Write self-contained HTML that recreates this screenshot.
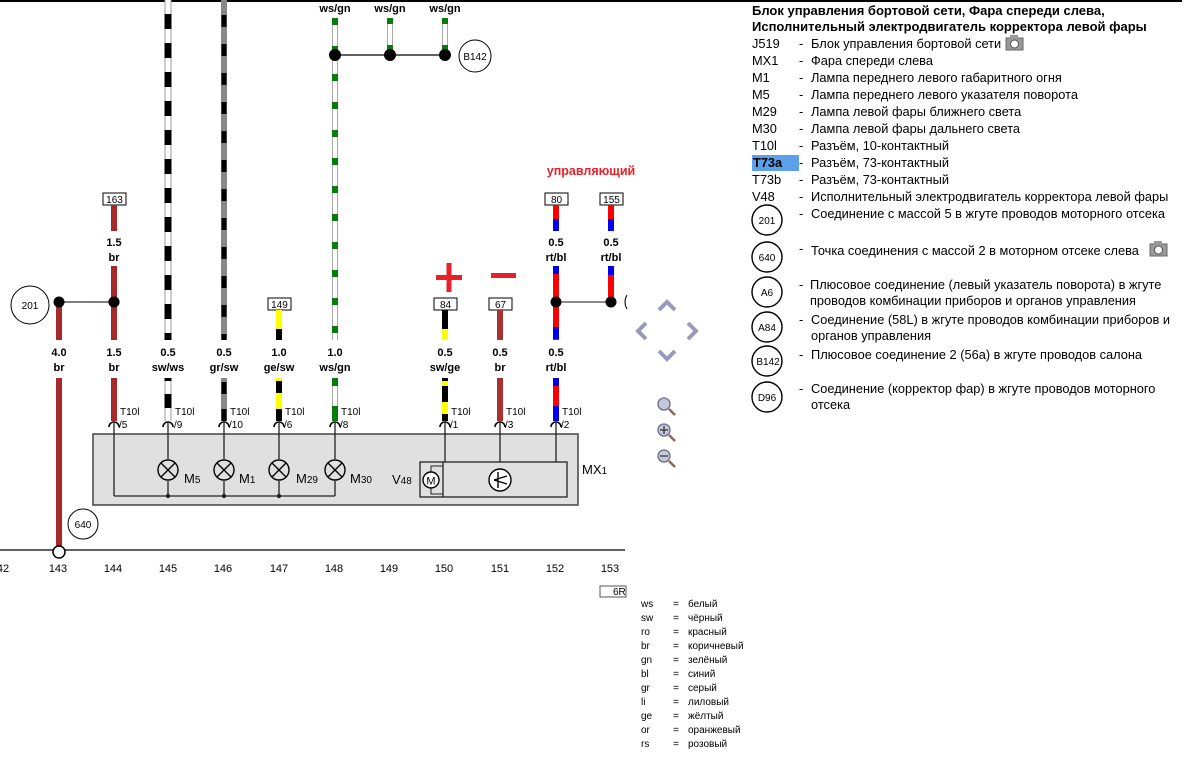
<!DOCTYPE html>
<html><head><meta charset="utf-8">
<style>
html,body{margin:0;padding:0;background:#fff;}
svg{display:block;font-family:"Liberation Sans","DejaVu Sans",sans-serif;}
.b{font-weight:bold;font-size:11px;text-anchor:middle;}
.s{font-size:10px;}
.n{font-size:11px;text-anchor:middle;}
</style></head><body>
<svg width="1190" height="760" viewBox="0 0 1190 760">
<line x1="0" y1="1" x2="1182" y2="1" stroke="#000" stroke-width="2"/>

<line x1="59" y1="302" x2="59" y2="340" stroke="#a52a2a" stroke-width="6"/>
<line x1="59" y1="378" x2="59" y2="550" stroke="#a52a2a" stroke-width="6"/>
<text class="b" x="59" y="356">4.0</text><text class="b" x="59" y="371">br</text>
<line x1="59" y1="302" x2="114" y2="302" stroke="#333" stroke-width="1.2"/>
<circle cx="59" cy="302" r="5.5"/><circle cx="114" cy="302" r="5.5"/>
<circle cx="30" cy="305" r="19" fill="#fff" stroke="#000"/>
<text x="30" y="309" font-size="10" text-anchor="middle">201</text>
<circle cx="83" cy="524" r="15" fill="#fff" stroke="#000"/>
<text x="83" y="528" font-size="10" text-anchor="middle">640</text>

<rect x="103" y="193" width="23" height="12" fill="#fff" stroke="#000"/>
<text x="114.5" y="203" font-size="10" text-anchor="middle">163</text>
<line x1="114" y1="205" x2="114" y2="231" stroke="#a52a2a" stroke-width="6"/>
<text class="b" x="114" y="246">1.5</text><text class="b" x="114" y="261">br</text>
<line x1="114" y1="266" x2="114" y2="340" stroke="#a52a2a" stroke-width="6"/>
<circle cx="114" cy="302" r="5.5"/>
<text class="b" x="114" y="356">1.5</text><text class="b" x="114" y="371">br</text>
<line x1="114" y1="378" x2="114" y2="421" stroke="#a52a2a" stroke-width="6"/>

<g>
<line x1="168" y1="0" x2="168" y2="340" stroke="#999" stroke-width="7"/>
<line x1="168" y1="0" x2="168" y2="340" stroke="#fff" stroke-width="5"/>
<line x1="168" y1="14" x2="168" y2="340" stroke="#000" stroke-width="7" stroke-dasharray="15 14"/>
<line x1="168" y1="378" x2="168" y2="421" stroke="#999" stroke-width="7"/>
<line x1="168" y1="378" x2="168" y2="421" stroke="#fff" stroke-width="5"/>
<line x1="168" y1="378" x2="168" y2="421" stroke="#000" stroke-width="7" stroke-dasharray="3 13 14 30"/>
</g>
<text class="b" x="168" y="356">0.5</text><text class="b" x="168" y="371">sw/ws</text>

<line x1="224" y1="0" x2="224" y2="340" stroke="#888" stroke-width="6"/>
<line x1="224" y1="15" x2="224" y2="340" stroke="#000" stroke-width="5" stroke-dasharray="12 17"/>
<line x1="224" y1="378" x2="224" y2="421" stroke="#888" stroke-width="6"/>
<line x1="224" y1="378" x2="224" y2="421" stroke="#000" stroke-width="5" stroke-dasharray="0 4 12 15 12 30"/>
<text class="b" x="224" y="356">0.5</text><text class="b" x="224" y="371">gr/sw</text>

<rect x="268" y="298" width="23" height="12" fill="#fff" stroke="#000"/>
<text x="279.5" y="308" font-size="10" text-anchor="middle">149</text>
<line x1="279" y1="310" x2="279" y2="340" stroke="#ffff00" stroke-width="6"/>
<line x1="279" y1="329" x2="279" y2="340" stroke="#000" stroke-width="6"/>
<text class="b" x="279" y="356">1.0</text><text class="b" x="279" y="371">ge/sw</text>
<line x1="279" y1="378" x2="279" y2="421" stroke="#ffff00" stroke-width="6"/>
<line x1="279" y1="381" x2="279" y2="421" stroke="#000" stroke-width="6" stroke-dasharray="12 16"/>

<text class="b" x="335" y="12">ws/gn</text>
<text class="b" x="390" y="12">ws/gn</text>
<text class="b" x="445" y="12">ws/gn</text>
<g stroke-width="6">
<line x1="335" y1="18" x2="335" y2="340" stroke="#aaa"/>
<line x1="335" y1="18" x2="335" y2="340" stroke="#fff" stroke-width="4"/>
<line x1="335" y1="18" x2="335" y2="340" stroke="#0a7a0a" stroke-dasharray="7 21"/>
<line x1="390" y1="18" x2="390" y2="55" stroke="#aaa"/>
<line x1="390" y1="18" x2="390" y2="55" stroke="#fff" stroke-width="4"/>
<line x1="390" y1="18" x2="390" y2="55" stroke="#0a7a0a" stroke-dasharray="6 21"/>
<line x1="445" y1="18" x2="445" y2="55" stroke="#aaa"/>
<line x1="445" y1="18" x2="445" y2="55" stroke="#fff" stroke-width="4"/>
<line x1="445" y1="18" x2="445" y2="55" stroke="#0a7a0a" stroke-dasharray="6 21"/>
<line x1="335" y1="378" x2="335" y2="421" stroke="#aaa"/>
<line x1="335" y1="378" x2="335" y2="421" stroke="#fff" stroke-width="4"/>
<line x1="335" y1="378" x2="335" y2="421" stroke="#0a7a0a" stroke-dasharray="8 20 20 20"/>
</g>
<text class="b" x="335" y="356">1.0</text><text class="b" x="335" y="371">ws/gn</text>
<line x1="335" y1="55" x2="445" y2="55" stroke="#000" stroke-width="1.3"/>
<circle cx="335" cy="55" r="6"/><circle cx="390" cy="55" r="6"/><circle cx="445" cy="55" r="6"/>
<circle cx="475" cy="56" r="16" fill="#fff" stroke="#000"/>
<text x="475" y="60" font-size="10" text-anchor="middle">B142</text>

<rect x="436" y="275" width="26" height="5" fill="#e8202a"/>
<rect x="446.5" y="263" width="5" height="29" fill="#e8202a"/>
<rect x="491" y="273" width="25" height="5" fill="#e8202a"/>

<rect x="434" y="298" width="23" height="12" fill="#fff" stroke="#000"/>
<text x="445.5" y="308" font-size="10" text-anchor="middle">84</text>
<line x1="445" y1="310" x2="445" y2="340" stroke="#000" stroke-width="6"/>
<line x1="445" y1="329" x2="445" y2="340" stroke="#ffff00" stroke-width="6"/>
<text class="b" x="445" y="356">0.5</text><text class="b" x="445" y="371">sw/ge</text>
<line x1="445" y1="378" x2="445" y2="421" stroke="#000" stroke-width="6"/>
<line x1="445" y1="381" x2="445" y2="421" stroke="#ffff00" stroke-width="6" stroke-dasharray="5 16 12 30"/>

<rect x="489" y="298" width="23" height="12" fill="#fff" stroke="#000"/>
<text x="500.5" y="308" font-size="10" text-anchor="middle">67</text>
<line x1="500" y1="310" x2="500" y2="340" stroke="#a83232" stroke-width="6"/>
<text class="b" x="500" y="356">0.5</text><text class="b" x="500" y="371">br</text>
<line x1="500" y1="378" x2="500" y2="421" stroke="#a83232" stroke-width="6"/>

<text x="591" y="175" font-size="12.5" font-weight="bold" fill="#e8202a" text-anchor="middle">управляющий</text>

<rect x="545" y="193" width="23" height="12" fill="#fff" stroke="#000"/>
<text x="556.5" y="203" font-size="10" text-anchor="middle">80</text>
<line x1="556" y1="205" x2="556" y2="231" stroke="#ff0000" stroke-width="6"/>
<line x1="556" y1="219" x2="556" y2="231" stroke="#0000ee" stroke-width="6"/>
<text class="b" x="556" y="246">0.5</text><text class="b" x="556" y="261">rt/bl</text>
<line x1="556" y1="266" x2="556" y2="340" stroke="#ff0000" stroke-width="6"/>
<line x1="556" y1="266" x2="556" y2="340" stroke="#0000ee" stroke-width="6" stroke-dasharray="8 53 12 30"/>
<text class="b" x="556" y="356">0.5</text><text class="b" x="556" y="371">rt/bl</text>
<line x1="556" y1="378" x2="556" y2="421" stroke="#ff0000" stroke-width="6"/>
<line x1="556" y1="378" x2="556" y2="421" stroke="#0000ee" stroke-width="6" stroke-dasharray="8 20 20 30"/>

<rect x="600" y="193" width="23" height="12" fill="#fff" stroke="#000"/>
<text x="611.5" y="203" font-size="10" text-anchor="middle">155</text>
<line x1="611" y1="205" x2="611" y2="231" stroke="#ff0000" stroke-width="6"/>
<line x1="611" y1="219" x2="611" y2="231" stroke="#0000ee" stroke-width="6"/>
<text class="b" x="611" y="246">0.5</text><text class="b" x="611" y="261">rt/bl</text>
<line x1="611" y1="266" x2="611" y2="302" stroke="#ff0000" stroke-width="6"/>
<line x1="611" y1="266" x2="611" y2="302" stroke="#0000ee" stroke-width="6" stroke-dasharray="9 40"/>
<line x1="556" y1="302" x2="611" y2="302" stroke="#444" stroke-width="1.2"/>
<circle cx="556" cy="302" r="5.5"/><circle cx="611" cy="302" r="5.5"/>
<path d="M627 295 Q623 302 627 309" fill="none" stroke="#000" stroke-width="1"/>

<rect x="93" y="434" width="485" height="71" fill="#e0e0e0" stroke="#444" stroke-width="1.5"/>
<text x="582" y="474" font-size="13">MX<tspan font-size="10">1</tspan></text>

<g fill="none" stroke="#000" stroke-width="1.6">
<path d="M109 427 a5 5 0 0 1 10 0"/>
<path d="M163 427 a5 5 0 0 1 10 0"/>
<path d="M219 427 a5 5 0 0 1 10 0"/>
<path d="M274 427 a5 5 0 0 1 10 0"/>
<path d="M330 427 a5 5 0 0 1 10 0"/>
<path d="M440 427 a5 5 0 0 1 10 0"/>
<path d="M495 427 a5 5 0 0 1 10 0"/>
<path d="M551 427 a5 5 0 0 1 10 0"/>
</g>
<g class="s">
<text x="120" y="415">T10l</text><text x="119" y="428">/5</text>
<text x="175" y="415">T10l</text><text x="174" y="428">/9</text>
<text x="230" y="415">T10l</text><text x="229" y="428">/10</text>
<text x="285" y="415">T10l</text><text x="284" y="428">/6</text>
<text x="341" y="415">T10l</text><text x="340" y="428">/8</text>
<text x="451" y="415">T10l</text><text x="450" y="428">/1</text>
<text x="506" y="415">T10l</text><text x="505" y="428">/3</text>
<text x="562" y="415">T10l</text><text x="561" y="428">/2</text>
</g>

<g stroke="#222" stroke-width="1.3" fill="none">
<line x1="114" y1="423" x2="114" y2="496"/>
<line x1="114" y1="496" x2="335" y2="496"/>
<line x1="168" y1="423" x2="168" y2="459"/><line x1="168" y1="481" x2="168" y2="496"/>
<line x1="224" y1="423" x2="224" y2="459"/><line x1="224" y1="481" x2="224" y2="496"/>
<line x1="279" y1="423" x2="279" y2="459"/><line x1="279" y1="481" x2="279" y2="496"/>
<line x1="335" y1="423" x2="335" y2="459"/><line x1="335" y1="481" x2="335" y2="496"/>
<line x1="445" y1="423" x2="445" y2="462"/>
<line x1="500" y1="423" x2="500" y2="462"/>
<line x1="556" y1="423" x2="556" y2="462"/>
</g>
<g fill="#222"><circle cx="168" cy="496" r="2.2"/><circle cx="224" cy="496" r="2.2"/><circle cx="279" cy="496" r="2.2"/></g>
<g fill="none" stroke="#000" stroke-width="1.4">
<circle cx="168" cy="470" r="10"/><path d="M161 463 L175 477 M175 463 L161 477"/>
<circle cx="224" cy="470" r="10"/><path d="M217 463 L231 477 M231 463 L217 477"/>
<circle cx="279" cy="470" r="10"/><path d="M272 463 L286 477 M286 463 L272 477"/>
<circle cx="335" cy="470" r="10"/><path d="M328 463 L342 477 M342 463 L328 477"/>
</g>
<text x="184" y="483" font-size="13">M<tspan font-size="10">5</tspan></text>
<text x="239" y="483" font-size="13">M<tspan font-size="10">1</tspan></text>
<text x="296" y="483" font-size="13">M<tspan font-size="10">29</tspan></text>
<text x="350" y="483" font-size="13">M<tspan font-size="10">30</tspan></text>

<rect x="420" y="462" width="147" height="35" fill="#e0e0e0" stroke="#222" stroke-width="1.3"/>
<line x1="443" y1="462" x2="443" y2="497" stroke="#222" stroke-width="1.3"/>
<path d="M431 472 V466 H443 M431 488 V494 H443" fill="none" stroke="#222"/>
<circle cx="431" cy="480" r="8" fill="#fff" stroke="#000" stroke-width="1.4"/>
<text x="431" y="484.5" font-size="11" text-anchor="middle">M</text>
<circle cx="500" cy="480" r="11" fill="#fff" stroke="#000" stroke-width="1.4"/>
<path d="M498 472 L498 488 M494 480 L507 476 M494 480 L507 484" stroke="#000" stroke-width="1.4" fill="none"/>
<text x="392" y="484" font-size="13">V<tspan font-size="10">48</tspan></text>

<line x1="0" y1="550" x2="625" y2="550" stroke="#000" stroke-width="1.3"/>
<circle cx="59" cy="552" r="6" fill="#fff" stroke="#000" stroke-width="1.5"/>
<g class="n">
<text x="3" y="572">42</text><text x="58" y="572">143</text><text x="113" y="572">144</text>
<text x="168" y="572">145</text><text x="223" y="572">146</text><text x="279" y="572">147</text>
<text x="334" y="572">148</text><text x="389" y="572">149</text><text x="444" y="572">150</text>
<text x="500" y="572">151</text><text x="555" y="572">152</text><text x="610" y="572">153</text>
</g>
<rect x="600" y="586" width="26" height="11" fill="#fff" stroke="#555"/>
<text x="613" y="595" font-size="10">6R</text>

<g font-size="10">
<text x="641" y="607">ws</text><text x="673" y="607">=</text><text x="688" y="607">белый</text>
<text x="641" y="621">sw</text><text x="673" y="621">=</text><text x="688" y="621">чёрный</text>
<text x="641" y="635">ro</text><text x="673" y="635">=</text><text x="688" y="635">красный</text>
<text x="641" y="649">br</text><text x="673" y="649">=</text><text x="688" y="649">коричневый</text>
<text x="641" y="663">gn</text><text x="673" y="663">=</text><text x="688" y="663">зелёный</text>
<text x="641" y="677">bl</text><text x="673" y="677">=</text><text x="688" y="677">синий</text>
<text x="641" y="691">gr</text><text x="673" y="691">=</text><text x="688" y="691">серый</text>
<text x="641" y="705">li</text><text x="673" y="705">=</text><text x="688" y="705">лиловый</text>
<text x="641" y="719">ge</text><text x="673" y="719">=</text><text x="688" y="719">жёлтый</text>
<text x="641" y="733">or</text><text x="673" y="733">=</text><text x="688" y="733">оранжевый</text>
<text x="641" y="747">rs</text><text x="673" y="747">=</text><text x="688" y="747">розовый</text>
</g>

<g fill="none" stroke="#9a9ab8" stroke-width="4" stroke-linejoin="miter">
<path d="M659 310 L667 302 L675 310"/>
<path d="M646 323 L638 331 L646 339"/>
<path d="M688 323 L696 331 L688 339"/>
<path d="M659 351 L667 359 L675 351"/>
</g>
<g stroke="#8a6a50" stroke-width="2.5"><line x1="669" y1="409" x2="675" y2="415"/><line x1="669" y1="435" x2="675" y2="441"/><line x1="669" y1="461" x2="675" y2="467"/></g>
<g fill="#c8c8dc" stroke="#6a6a88" stroke-width="1.3">
<circle cx="664" cy="404" r="6"/><circle cx="664" cy="430" r="6"/><circle cx="664" cy="456" r="6"/>
</g>
<path d="M660 430 H668 M664 426 V434 M660 456 H668" stroke="#333" stroke-width="1.3"/>

<g font-size="12.8">
<text x="752" y="15" font-weight="bold" font-size="13">Блок управления бортовой сети, Фара спереди слева,</text>
<text x="752" y="31" font-weight="bold" font-size="13">Исполнительный электродвигатель корректора левой фары</text>
<rect x="752" y="155" width="47" height="16" fill="#3f8fe8" opacity="0.85"/>
<text x="752" y="48">J519</text><text x="799" y="48">-</text><text x="811" y="48">Блок управления бортовой сети</text>
<text x="752" y="65">MX1</text><text x="799" y="65">-</text><text x="811" y="65">Фара спереди слева</text>
<text x="752" y="82">M1</text><text x="799" y="82">-</text><text x="811" y="82">Лампа переднего левого габаритного огня</text>
<text x="752" y="99">M5</text><text x="799" y="99">-</text><text x="811" y="99">Лампа переднего левого указателя поворота</text>
<text x="752" y="116">M29</text><text x="799" y="116">-</text><text x="811" y="116">Лампа левой фары ближнего света</text>
<text x="752" y="133">M30</text><text x="799" y="133">-</text><text x="811" y="133">Лампа левой фары дальнего света</text>
<text x="752" y="150">T10l</text><text x="799" y="150">-</text><text x="811" y="150">Разъём, 10-контактный</text>
<text x="753" y="167" font-weight="bold">T73a</text><text x="799" y="167">-</text><text x="811" y="167">Разъём, 73-контактный</text>
<text x="752" y="184">T73b</text><text x="799" y="184">-</text><text x="811" y="184">Разъём, 73-контактный</text>
<text x="752" y="201">V48</text><text x="799" y="201">-</text><text x="811" y="201">Исполнительный электродвигатель корректора левой фары</text>
<text x="799" y="218">-</text><text x="811" y="218">Соединение с массой 5 в жгуте проводов моторного отсека</text>
<text x="799" y="253">-</text><text x="811" y="255">Точка соединения с массой 2 в моторном отсеке слева</text>
<text x="799" y="289">-</text><text x="810" y="289">Плюсовое соединение (левый указатель поворота) в жгуте</text>
<text x="810" y="305">проводов комбинации приборов и органов управления</text>
<text x="799" y="324">-</text><text x="811" y="324">Соединение (58L) в жгуте проводов комбинации приборов и</text>
<text x="811" y="340">органов управления</text>
<text x="799" y="359">-</text><text x="811" y="359">Плюсовое соединение 2 (56а) в жгуте проводов салона</text>
<text x="799" y="393">-</text><text x="811" y="393">Соединение (корректор фар) в жгуте проводов моторного</text>
<text x="811" y="409">отсека</text>
</g>
<g>
<rect x="1006" y="38" width="17" height="12" fill="#999" stroke="#666"/>
<rect x="1010" y="35" width="8" height="4" fill="#999"/>
<circle cx="1014.5" cy="44" r="4" fill="#fff" stroke="#555"/>
<rect x="1150" y="244" width="17" height="12" fill="#999" stroke="#666"/>
<rect x="1154" y="241" width="8" height="4" fill="#999"/>
<circle cx="1158.5" cy="250" r="4" fill="#fff" stroke="#555"/>
</g>
<g fill="#fff" stroke="#000" stroke-width="1.4">
<circle cx="767" cy="220" r="15"/><circle cx="767" cy="257" r="15"/><circle cx="767" cy="292" r="15"/>
<circle cx="767" cy="327" r="15"/><circle cx="767" cy="361" r="15"/><circle cx="767" cy="397" r="15"/>
</g>
<g font-size="10" text-anchor="middle">
<text x="767" y="224">201</text><text x="767" y="261">640</text><text x="767" y="296">A6</text>
<text x="767" y="331">A84</text><text x="768" y="365">B142</text><text x="767" y="401">D96</text>
</g>
</svg>
</body></html>
